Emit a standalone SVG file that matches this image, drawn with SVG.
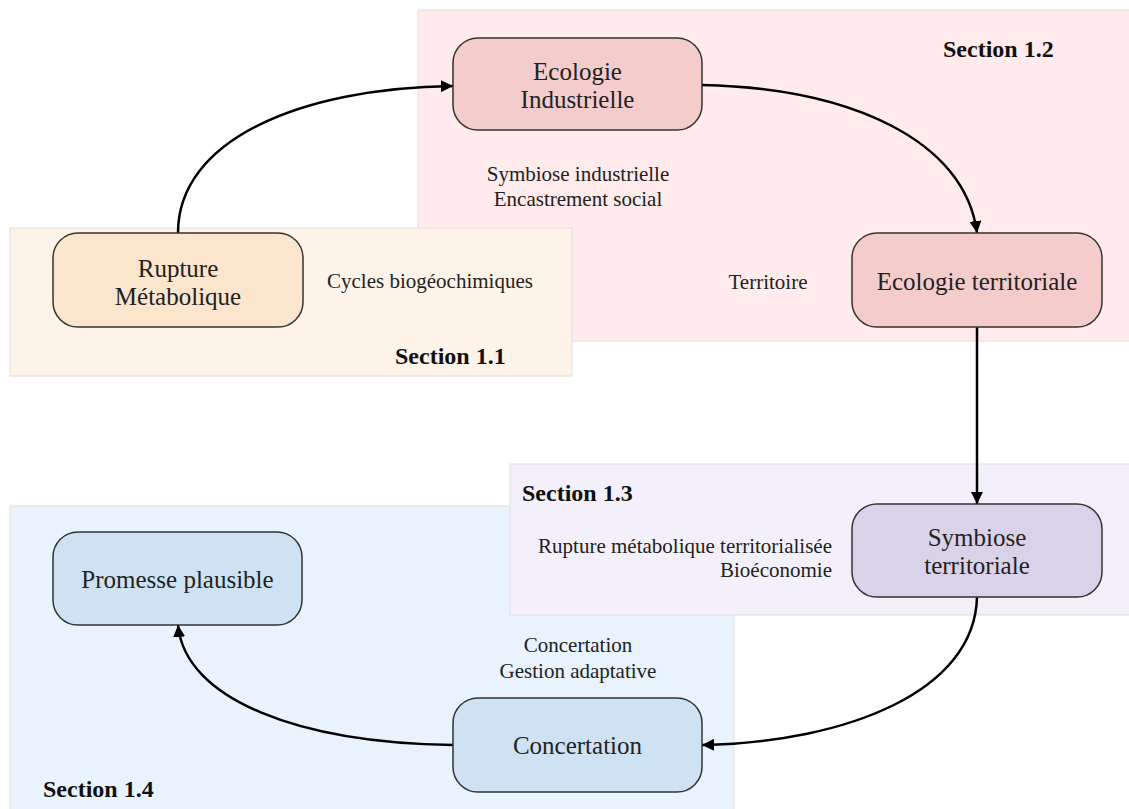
<svg xmlns="http://www.w3.org/2000/svg" width="1129" height="809" viewBox="0 0 1129 809">
<defs>
<marker id="arr" viewBox="0 0 10 10" refX="10" refY="5" markerWidth="12" markerHeight="12" markerUnits="userSpaceOnUse" orient="auto">
<path d="M0,0 L10,5 L0,10 Z" fill="#000"/>
</marker>
<style>
.sec{stroke:#dedede;stroke-width:1}
.node{stroke:#333;stroke-width:1.5}
.nt{font-family:"Liberation Serif",serif;font-size:25px;fill:#222;text-anchor:middle}
.lt{font-family:"Liberation Serif",serif;font-size:21px;fill:#222;text-anchor:middle}
.st{font-family:"Liberation Serif",serif;font-size:24px;font-weight:bold;fill:#111}
.edge{fill:none;stroke:#000;stroke-width:2.5;marker-end:url(#arr)}
</style>
</defs>
<rect width="1129" height="809" fill="#fff"/>
<g id="section-1-2">
<rect class="sec" x="418" y="10" width="712" height="331" fill="#ffebeb"/>
<text class="st" x="943" y="57">Section 1.2</text>
</g>
<g id="section-1-1">
<rect class="sec" x="10" y="228" width="562" height="148" fill="#fef3e9"/>
<text class="st" x="395" y="364">Section 1.1</text>
</g>
<g id="section-1-4">
<rect class="sec" x="10" y="506" width="724" height="304" fill="#e8f3fe"/>
<text class="st" x="43" y="797">Section 1.4</text>
</g>
<g id="section-1-3">
<rect class="sec" x="510" y="464" width="620" height="151" fill="#f3f0fb"/>
<text class="st" x="522" y="501">Section 1.3</text>
</g>
<g id="labels">
<text class="lt" x="578" y="181">Symbiose industrielle</text>
<text class="lt" x="578" y="206">Encastrement social</text>
<text class="lt" x="430" y="288">Cycles biogéochimiques</text>
<text class="lt" x="768" y="289">Territoire</text>
<text class="lt" x="832" y="553" style="text-anchor:end">Rupture métabolique territorialisée</text>
<text class="lt" x="832" y="577" style="text-anchor:end">Bioéconomie</text>
<text class="lt" x="578" y="652">Concertation</text>
<text class="lt" x="578" y="678">Gestion adaptative</text>
</g>
<g id="connectors">
<path class="edge" d="M178,233 C178,140 300,88 453,86"/>
<path class="edge" d="M702,85 C850,88 965,140 977,233"/>
<path class="edge" d="M977,327 L977,504"/>
<path class="edge" d="M977,597 C975,690 850,742 702,745"/>
<path class="edge" d="M453,745 C300,743 185,700 178,625"/>
</g>
<g id="node-ecologie-industrielle">
<rect class="node" x="453" y="38" width="249" height="92" rx="25" fill="#f4cccc"/>
<text class="nt" x="577.5" y="80">Ecologie</text>
<text class="nt" x="577.5" y="108">Industrielle</text>
</g>
<g id="node-rupture-metabolique">
<rect class="node" x="53" y="233" width="250" height="94" rx="25" fill="#fce5cd"/>
<text class="nt" x="178" y="277">Rupture</text>
<text class="nt" x="178" y="305">Métabolique</text>
</g>
<g id="node-ecologie-territoriale">
<rect class="node" x="852" y="233" width="250" height="94" rx="25" fill="#f4cccc"/>
<text class="nt" x="977" y="290">Ecologie territoriale</text>
</g>
<g id="node-symbiose-territoriale">
<rect class="node" x="852" y="504" width="250" height="93" rx="25" fill="#d9d2e9"/>
<text class="nt" x="977" y="546">Symbiose</text>
<text class="nt" x="977" y="574">territoriale</text>
</g>
<g id="node-promesse-plausible">
<rect class="node" x="53" y="532" width="249" height="93" rx="25" fill="#cfe2f3"/>
<text class="nt" x="177.5" y="588">Promesse plausible</text>
</g>
<g id="node-concertation">
<rect class="node" x="453" y="698" width="249" height="94" rx="25" fill="#cfe2f3"/>
<text class="nt" x="577.5" y="754">Concertation</text>
</g>
</svg>
